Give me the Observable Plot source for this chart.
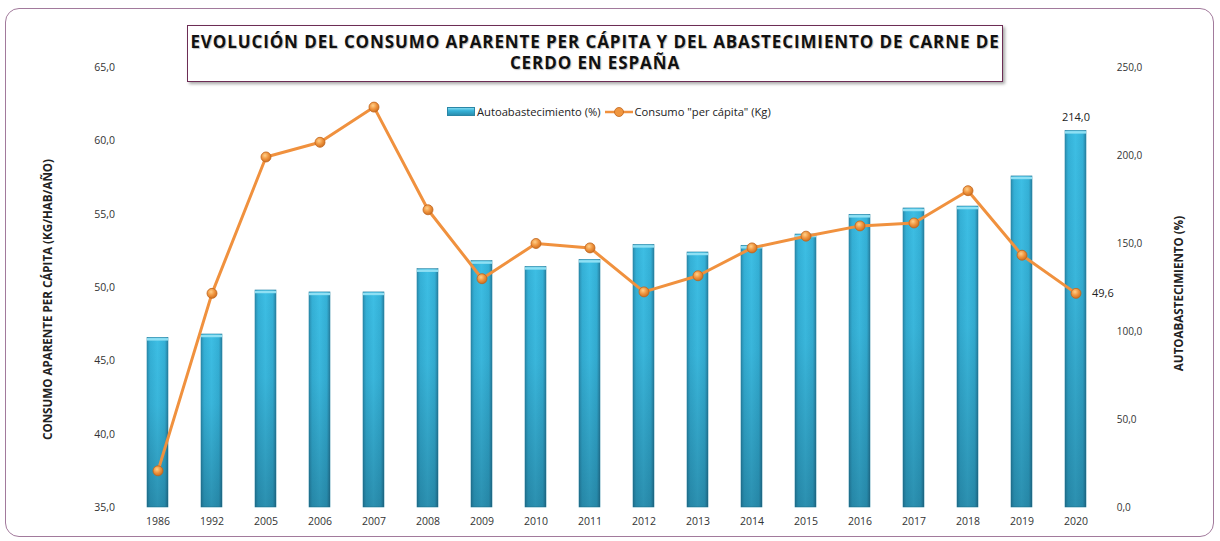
<!DOCTYPE html>
<html>
<head>
<meta charset="utf-8">
<script src="https://cdn.jsdelivr.net/npm/d3@7"></script>
<script src="https://cdn.jsdelivr.net/npm/@observablehq/plot@0.6"></script>
<style>
  html, body { margin: 0; padding: 0; background: #fff; }
  #wrap { position: relative; width: 1220px; height: 541px; overflow: hidden; font-family: "Open Sans", sans-serif; }
  #frame { position: absolute; left: 5px; top: 8px; width: 1207px; height: 527px; border: 1.5px solid #a27a9c; border-radius: 14px; pointer-events: none; }
  #chart { position: absolute; left: 0; top: 0; }
  #title { position: absolute; left: 187px; top: 25px; width: 814px; height: 50px; border: 1.5px solid #6d2d55; box-shadow: 2px 2px 3px rgba(0,0,0,0.35); background: #fff; text-align: center; font-weight: 700; font-size: 17px; letter-spacing: 0.9px; line-height: 21px; padding-top: 5px; box-sizing: content-box; color: #111; text-shadow: 1px 1px 1px rgba(0,0,0,0.25); white-space: nowrap; }
  #legend { position: absolute; left: 447px; top: 104px; font-size: 11.2px; color: #222; display: flex; align-items: center; white-space: nowrap; }
  .sw-bar { width: 26px; height: 7px; background: linear-gradient(#7fd8ef, #36b2d8 40%, #2a8fb0); border: 0.5px solid #2a86a6; margin-right: 2px; }
  .ytitle { position: absolute; font-size: 11.6px; font-weight: 700; color: #222; white-space: nowrap; transform-origin: center center; }
</style>
</head>
<body>
<div id="wrap">
  <div id="chart"></div>
  <div id="frame"></div>
  <div id="title">EVOLUCIÓN DEL CONSUMO APARENTE PER CÁPITA Y DEL ABASTECIMIENTO DE CARNE DE<br>CERDO EN ESPAÑA</div>
  <div id="legend">
    <div class="sw-bar"></div><span>Autoabastecimiento (%)</span>
    <svg width="30" height="12" style="margin:0 1px 0 3px"><line x1="1" y1="6" x2="29" y2="6" stroke="#f0913e" stroke-width="2.5"/><circle cx="15" cy="6" r="4.5" fill="#f0963f" stroke="#c0651c" stroke-width="0.8"/></svg><span>Consumo "per cápita" (Kg)</span>
  </div>
  <div class="ytitle" id="ytl">CONSUMO APARENTE PER CÁPITA (KG/HAB/AÑO)</div>
  <div class="ytitle" id="ytr">AUTOABASTECIMIENTO (%)</div>
</div>
<script>
const years = ["1986","1992","2005","2006","2007","2008","2009","2010","2011","2012","2013","2014","2015","2016","2017","2018","2019","2020"];
const autoabastecimiento = [96.4, 98.3, 123.3, 122.2, 122.2, 135.4, 140.0, 136.7, 140.7, 149.2, 144.9, 148.7, 155.1, 166.3, 169.9, 171.0, 188.1, 214.0];
const consumo = [37.5, 49.6, 58.9, 59.9, 62.3, 55.3, 50.6, 53.0, 52.7, 49.7, 50.8, 52.7, 53.5, 54.2, 54.4, 56.6, 52.2, 49.6];
const leftTicks = [35, 40, 45, 50, 55, 60, 65];
const rightTicks = [0, 50, 100, 150, 200, 250];
const leftDomain = [35, 65];
const rightDomain = [0, 250];

const toLeft = v => leftDomain[0] + (v - rightDomain[0]) * (leftDomain[1] - leftDomain[0]) / (rightDomain[1] - rightDomain[0]);
const fromLeft = v => rightDomain[0] + (v - leftDomain[0]) * (rightDomain[1] - rightDomain[0]) / (leftDomain[1] - leftDomain[0]);
const fmt = v => (Math.round(v * 10) / 10).toFixed(1).replace(".", ",");

const data = years.map((y, i) => ({year: y, auto: autoabastecimiento[i], cons: consumo[i]}));
const last = data[data.length - 1];

const plot = Plot.plot({
  width: 1220,
  height: 541,
  marginTop: 67,
  marginBottom: 34,
  marginLeft: 125.4,
  marginRight: 112.7,
  style: {fontFamily: "Open Sans, sans-serif", fontSize: "10px", color: "#333", background: "transparent"},
  x: {type: "band", domain: years, paddingInner: 0.61, paddingOuter: 0.305},
  y: {domain: leftDomain},
  marks: [
    Plot.barY(data, {x: "year", y1: leftDomain[0], y2: d => toLeft(d.auto), fill: "url(#barH)", stroke: "#2a86a6", strokeWidth: 0.6}),
    Plot.barY(data, {x: "year", y1: leftDomain[0], y2: d => toLeft(d.auto), fill: "url(#barV)"}),
    Plot.tickY(data, {x: "year", y: d => toLeft(d.auto), stroke: "#8fe0f4", strokeWidth: 2.5, dy: 1.5}),
    Plot.line(data, {x: "year", y: "cons", stroke: "#f0913e", strokeWidth: 3}),
    Plot.dot(data, {x: "year", y: "cons", r: 5, fill: "url(#dotG)", stroke: "#c0651c", strokeWidth: 0.8}),
    Plot.text([last], {x: "year", y: d => toLeft(d.auto), text: d => fmt(d.auto), dy: -13, fontSize: 11, fill: "#222"}),
    Plot.text([last], {x: "year", y: "cons", text: d => fmt(d.cons), dx: 16, textAnchor: "start", fontSize: 11, fill: "#222"}),
    Plot.axisX({tickSize: 0, tickPadding: 10, fontSize: 10.5, label: null, fill: "#333"}),
    Plot.axisY(leftTicks, {anchor: "left", tickSize: 0, tickPadding: 11, tickFormat: fmt, label: null, fontSize: 10.5, fill: "#333"}),
    Plot.axisY(rightTicks.map(toLeft), {anchor: "right", tickSize: 0, tickPadding: 9, tickFormat: d => fmt(fromLeft(d)), label: null, fontSize: 10, fill: "#333"})
  ]
});

const defs = d3.select(plot).insert("defs", ":first-child");
const gh = defs.append("linearGradient").attr("id", "barH").attr("x1", "0").attr("x2", "1").attr("y1", "0").attr("y2", "0");
[["0%", "#2a8db0"], ["15%", "#34b0d6"], ["50%", "#3dbee4"], ["85%", "#34b0d6"], ["100%", "#277fa0"]].forEach(([o, c]) => gh.append("stop").attr("offset", o).attr("stop-color", c));
const gv = defs.append("linearGradient").attr("id", "barV").attr("x1", "0").attr("x2", "0").attr("y1", "0").attr("y2", "1");
[["0%", "#001a2a", 0], ["40%", "#001a2a", 0.05], ["100%", "#001a2a", 0.28]].forEach(([o, c, a]) => gv.append("stop").attr("offset", o).attr("stop-color", c).attr("stop-opacity", a));
const gd = defs.append("radialGradient").attr("id", "dotG").attr("cx", "0.4").attr("cy", "0.35").attr("r", "0.7");
[["0%", "#ffd08a"], ["50%", "#f0953f"], ["100%", "#c96a1c"]].forEach(([o, c]) => gd.append("stop").attr("offset", o).attr("stop-color", c));

document.getElementById("chart").appendChild(plot);

const ytl = document.getElementById("ytl");
const ytr = document.getElementById("ytr");
function placeRot(el, cx, cy) {
  const w = el.offsetWidth, h = el.offsetHeight;
  el.style.left = (cx - w / 2) + "px";
  el.style.top = (cy - h / 2) + "px";
  el.style.transform = "rotate(-90deg)";
}
placeRot(ytl, 47, 299);
placeRot(ytr, 1178, 293);
</script>
</body>
</html>
